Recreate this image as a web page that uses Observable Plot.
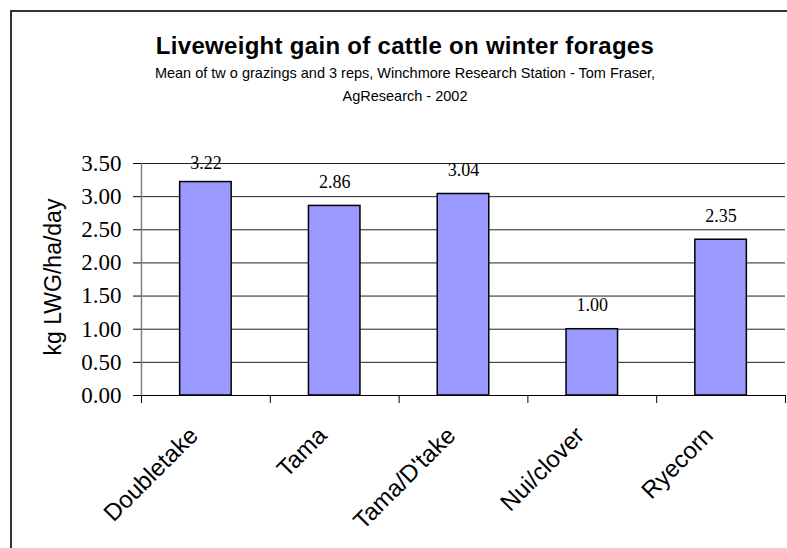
<!DOCTYPE html>
<html>
<head>
<meta charset="utf-8">
<script src="https://cdn.jsdelivr.net/npm/d3@7"></script>
<script src="https://cdn.jsdelivr.net/npm/@observablehq/plot@0.6"></script>
<style>
  html, body { margin: 0; padding: 0; background: #fff; }
  #wrap { position: relative; width: 787px; height: 548px; overflow: hidden; background: #fff; }
  #frame { position: absolute; left: 10px; top: 10px; width: 790px; height: 560px; border: 2px solid #333; box-sizing: border-box; }
  .t { position: absolute; left: 0; width: 810px; text-align: center; font-family: "Liberation Sans", Arial, sans-serif; color: #000; white-space: nowrap; }
  #title { top: 32px; font-size: 24px; font-weight: bold; letter-spacing: 0.3px; }
  #sub1 { top: 65px; font-size: 14.5px; }
  #sub2 { top: 88px; font-size: 14.5px; }
  #ytitle { position: absolute; left: 53px; top: 277px; transform: translate(-50%, -50%) rotate(-90deg); font-family: "Liberation Sans", Arial, sans-serif; font-size: 23px; white-space: nowrap; color: #000; }
  #chart { position: absolute; left: 0; top: 0; }
</style>
</head>
<body>
<div id="wrap">
  <div id="frame"></div>
  <div id="chart"></div>
  <div class="t" id="title">Liveweight gain of cattle on winter forages</div>
  <div class="t" id="sub1">Mean of tw o grazings and 3 reps, Winchmore Research Station - Tom Fraser,</div>
  <div class="t" id="sub2">AgResearch - 2002</div>
  <div id="ytitle">kg LWG/ha/day</div>
</div>
<script>
const categories = ["Doubletake", "Tama", "Tama/D'take", "Nui/clover", "Ryecorn"];
const values = [3.22, 2.86, 3.04, 1.00, 2.35];
const yTicks = [0, 0.5, 1, 1.5, 2, 2.5, 3, 3.5];

const data = categories.map((c, i) => ({name: c, i, v: values[i]}));
const boundaries = d3.range(categories.length + 1);

const plot = Plot.plot({
  width: 787,
  height: 548,
  marginLeft: 141,
  marginRight: 2,
  marginTop: 163,
  marginBottom: 153,
  style: {background: "transparent", overflow: "visible"},
  x: {domain: [0, categories.length], axis: null},
  y: {domain: [0, 3.5], axis: null},
  marks: [
    Plot.ruleY(yTicks.slice(1), {stroke: "#222", strokeWidth: 1}),
    Plot.rectY(data, {x1: d => d.i + 0.3, x2: d => d.i + 0.7, y: "v", fill: "#9999FF", stroke: "#000", strokeWidth: 1.5}),
    Plot.ruleX([0], {stroke: "#808080", strokeWidth: 1.5}),
    Plot.ruleY([0], {stroke: "#000", strokeWidth: 1.2}),
    Plot.axisY(yTicks, {
      tickFormat: d3.format(".2f"), tickSize: 8, tickPadding: 12,
      fontSize: 23, fontFamily: "Liberation Serif, Times New Roman, serif",
      stroke: "#000", fill: "#000", label: null
    }),
    Plot.axisX(boundaries, {tickFormat: () => "", tickSize: 8, stroke: "#000", label: null}),
    Plot.text(data, {
      x: d => d.i + 0.5, y: 0, text: "name", rotate: -45,
      textAnchor: "end", lineAnchor: "middle", dx: -12, dy: 36,
      fontSize: 24, fontFamily: "Liberation Sans, Arial, sans-serif", fill: "#000"
    }),
    Plot.text(data, {
      x: d => d.i + 0.5, y: d => Math.min(d.v + 0.27, 3.41), text: d => d3.format(".2f")(d.v),
      lineAnchor: "bottom", fontSize: 18, fontFamily: "Liberation Serif, Times New Roman, serif", fill: "#000"
    })
  ]
});
document.getElementById("chart").appendChild(plot);
</script>
</body>
</html>
